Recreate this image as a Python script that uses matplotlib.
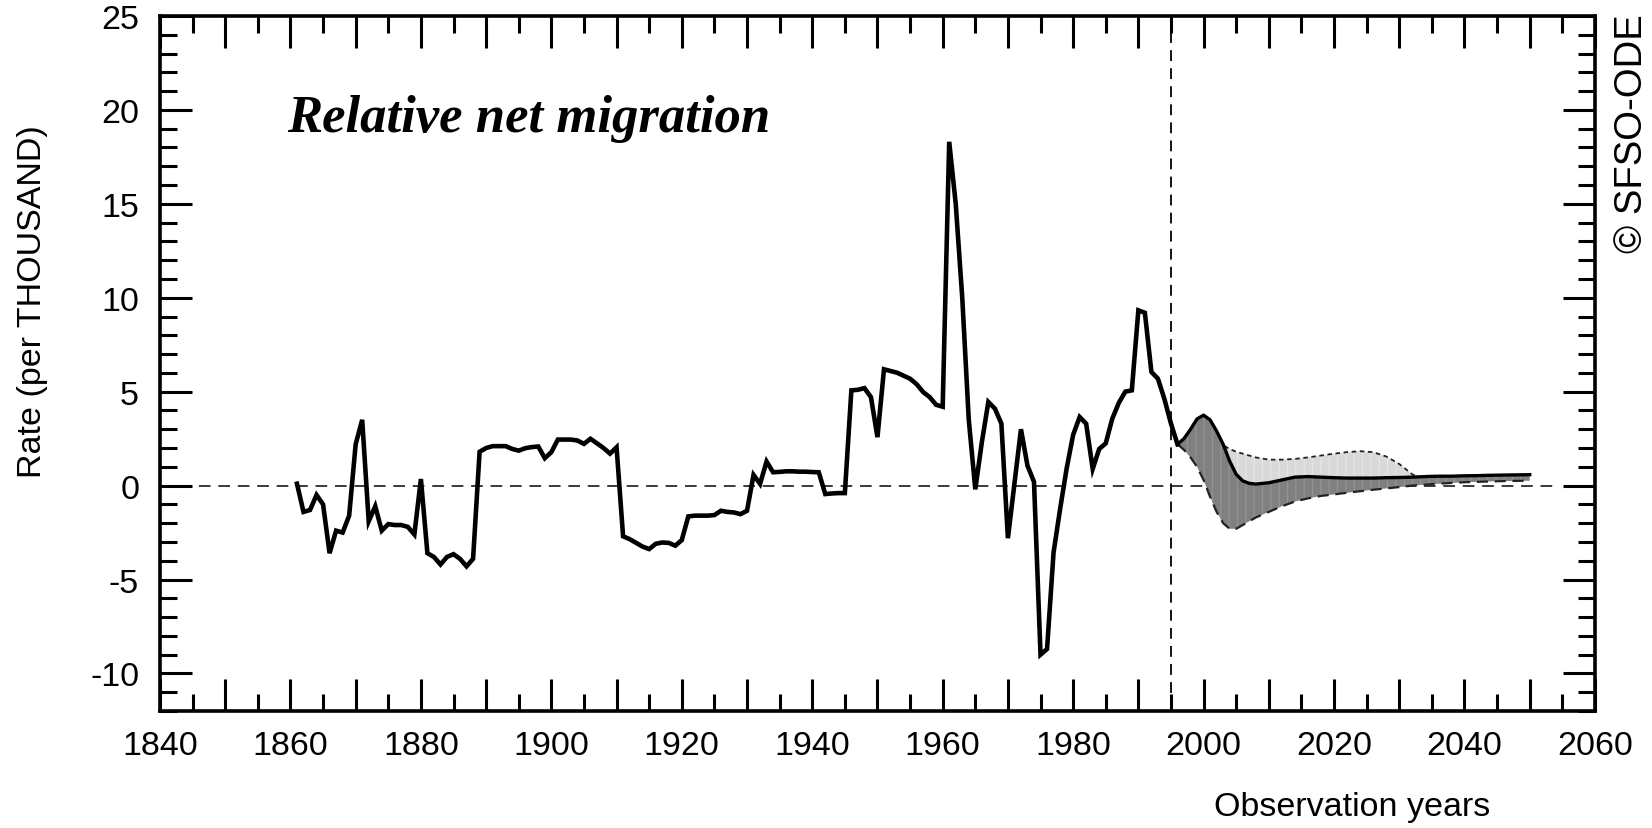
import matplotlib
matplotlib.use("Agg")
import matplotlib.pyplot as plt
from matplotlib.ticker import MultipleLocator, FuncFormatter
import numpy as np

# ---------------- data ----------------
hist_years = list(range(1861, 1997))
hist_rate = [
    0.1, -1.4, -1.3, -0.5, -1.0, -3.6, -2.4, -2.5, -1.6, 2.2,          # 1861-1870
    3.5, -1.9, -1.1, -2.4, -2.05, -2.1, -2.1, -2.2, -2.6, 0.35,        # 1871-1880
    -3.6, -3.8, -4.2, -3.8, -3.65, -3.9, -4.3, -3.9, 1.8, 2.0,         # 1881-1890
    2.1, 2.1, 2.1, 1.95, 1.86, 1.99, 2.05, 2.08, 1.46, 1.78,           # 1891-1900
    2.45, 2.45, 2.45, 2.4, 2.22, 2.49, 2.25, 2.0, 1.7, 2.04,           # 1901-1910
    -2.7, -2.85, -3.05, -3.25, -3.38, -3.1, -3.03, -3.05, -3.2, -2.9,  # 1911-1920
    -1.64, -1.6, -1.6, -1.6, -1.57, -1.34, -1.4, -1.43, -1.52, -1.34,  # 1921-1930
    0.57, 0.09, 1.28, 0.71, 0.73, 0.76, 0.76, 0.74, 0.74, 0.72,        # 1931-1940
    0.71, -0.45, -0.42, -0.4, -0.4, 5.07, 5.1, 5.19, 4.71, 2.58,       # 1941-1950
    6.19, 6.1, 6.01, 5.85, 5.69, 5.4, 4.98, 4.71, 4.3, 4.2,            # 1951-1960
    18.3, 15.0, 10.0, 3.5, -0.2, 2.3, 4.45, 4.1, 3.3, -2.8,            # 1961-1970
    0.1, 3.0, 1.06, 0.2, -9.0, -8.7, -3.56, -1.25, 0.9, 2.7,           # 1971-1980
    3.65, 3.29, 0.89, 1.95, 2.25, 3.56, 4.4, 5.0, 5.07, 9.33,          # 1981-1990
    9.2, 6.05, 5.69, 4.6, 3.3, 2.2,                                    # 1991-1996
]

proj_years = [1996, 1997, 1998, 1999, 2000, 2001, 2002, 2003, 2004, 2005,
              2006, 2007, 2008, 2010, 2012, 2014, 2016, 2018, 2020, 2022,
              2024, 2026, 2028, 2030, 2032, 2034, 2036, 2038, 2040, 2042,
              2044, 2046, 2048, 2050]
proj_middle = [2.2, 2.5, 3.0, 3.55, 3.75, 3.5, 2.9, 2.2, 1.3, 0.6,
               0.25, 0.12, 0.08, 0.15, 0.3, 0.45, 0.48, 0.45, 0.42, 0.4,
               0.4, 0.4, 0.42, 0.43, 0.45, 0.48, 0.5, 0.5, 0.52, 0.53,
               0.55, 0.56, 0.57, 0.58]
proj_high = [2.2, 2.3, 2.4, 2.45, 2.45, 2.4, 2.3, 2.15, 1.95, 1.8,
             1.7, 1.6, 1.5, 1.38, 1.38, 1.42, 1.5, 1.6, 1.7, 1.78,
             1.83, 1.78, 1.55, 1.15, 0.6, 0.32, 0.33, 0.35, 0.37, 0.38,
             0.4, 0.41, 0.42, 0.43]
proj_low = [2.2, 1.9, 1.5, 1.0, 0.3, -0.6, -1.4, -2.0, -2.3, -2.3,
            -2.1, -1.9, -1.7, -1.4, -1.1, -0.85, -0.68, -0.55, -0.47, -0.38,
            -0.3, -0.22, -0.15, -0.08, 0.0, 0.05, 0.1, 0.14, 0.18, 0.2,
            0.22, 0.24, 0.25, 0.26]

base_year = 1995
x_min, x_max = 1840, 2060
y_min, y_max = -12, 25

# ---------------- figure ----------------
plt.rcParams['font.family'] = ['Liberation Sans', 'DejaVu Sans']
plt.rcParams['hatch.linewidth'] = 0.9

fig = plt.figure(figsize=(16.52, 8.29), dpi=100)
ax = fig.add_axes([0.09685, 0.14113, 0.8686, 0.8384])

py = np.array(proj_years, dtype=float)
pm = np.array(proj_middle)
ph = np.array(proj_high)
pl = np.array(proj_low)

# reference lines
ax.axhline(0, xmin=0, xmax=(2053.5 - x_min) / (x_max - x_min),
           color='#3a3a3a', lw=1.4, ls=(0, (6, 4)), zorder=1)
ax.axvline(base_year, color='black', lw=1.3, ls=(0, (6, 4)), zorder=1)

# shaded projection bands
ax.fill_between(py, pm, ph, where=ph >= pm, interpolate=True,
                facecolor='#d9d9d9', edgecolor='#e6e6e6', hatch='||', lw=0, zorder=2)
ax.plot(py, ph, color='#222222', lw=1.3, ls=(0, (2.5, 2)), zorder=2.5)
ax.fill_between(py, pl, pm, facecolor='#808080', edgecolor='#939393',
                hatch='||', lw=0, zorder=3)

ax.plot(py, pl, color='#222222', lw=1.6, ls=(0, (5, 3)), zorder=4)
ax.plot(py, pm, color='black', lw=2.4, zorder=5, solid_joinstyle='round')

# observed series
ax.plot(hist_years, hist_rate, color='black', lw=3.3, zorder=6,
        solid_joinstyle='miter')

# axes styling
ax.set_xlim(x_min, x_max)
ax.set_ylim(y_min, y_max)
for s in ax.spines.values():
    s.set_linewidth(2.6)

ax.xaxis.set_major_locator(MultipleLocator(10))
ax.xaxis.set_minor_locator(MultipleLocator(5))
ax.yaxis.set_major_locator(MultipleLocator(5))
ax.yaxis.set_minor_locator(MultipleLocator(1))
ax.xaxis.set_major_formatter(FuncFormatter(
    lambda v, p: f"{int(round(v))}" if int(round(v)) % 20 == 0 else ""))
ax.yaxis.set_major_formatter(FuncFormatter(lambda v, p: f"{int(round(v))}"))

ax.tick_params(which='both', direction='in', top=True, right=True, width=2.2,
               labelsize=24.5, colors='black')
ax.tick_params(which='major', length=23)
ax.tick_params(which='minor', length=12)
ax.tick_params(axis='x', which='major', pad=14)
ax.tick_params(axis='y', which='major', pad=15)

# texts
fig.text(287 / 1652, 1 - 132 / 829, 'Relative net migration',
         family='Liberation Serif', style='italic', weight='bold',
         fontsize=38, ha='left', va='baseline')
fig.text(33 / 1652, 1 - 302 / 829, 'Rate (per THOUSAND)', rotation=90,
         fontsize=24.5, ha='center', va='center')
fig.text(1352 / 1652, 1 - 808 / 829, 'Observation years',
         fontsize=24.5, ha='center', va='center')
fig.text(1632 / 1652, 1 - 134 / 829, '\u00a9 SFSO-ODE', rotation=90,
         fontsize=27.5, ha='center', va='center')

fig.savefig('out.png', dpi=100)
